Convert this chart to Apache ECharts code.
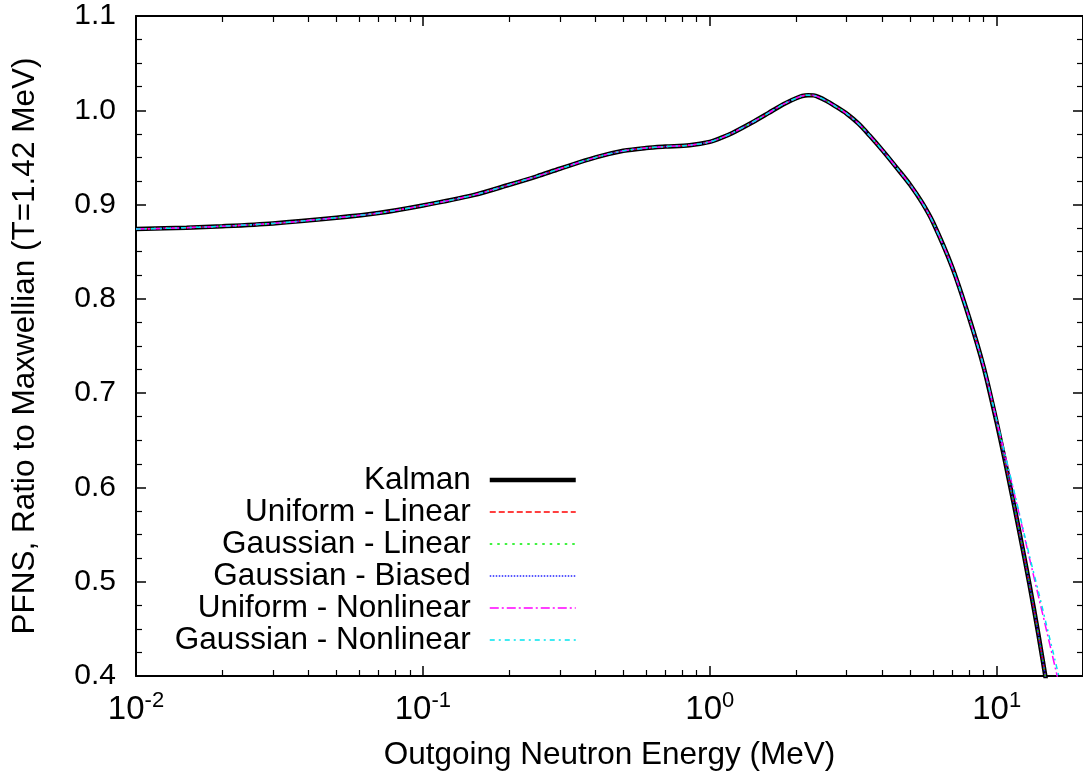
<!DOCTYPE html>
<html>
<head>
<meta charset="utf-8">
<script src="https://cdn.jsdelivr.net/npm/echarts@6/dist/echarts.min.js"></script>
<style>
  html, body { margin: 0; padding: 0; background: #fff; }
  #chart { width: 1083px; height: 777px; }
</style>
</head>
<body>
<div id="chart"></div>
<script>
// Outgoing neutron energy grid (MeV)
const energy = [0.01, 0.015, 0.02, 0.03, 0.05, 0.07, 0.1, 0.15, 0.2, 0.25, 0.3, 0.4, 0.5, 0.6, 0.7, 0.85,
  1.0, 1.1, 1.2, 1.4, 1.6, 1.8, 2.0, 2.1, 2.2, 2.3, 2.4, 2.55, 2.7, 3.0, 3.3, 3.6, 4.0, 4.5, 5.0, 5.5, 6.0, 7.0, 8.0, 9.0,
  10, 11, 12, 13, 14, 15, 16];

// PFNS ratio to a Maxwellian (T = 1.42 MeV), Kalman evaluation
const kalman = [0.874, 0.8755, 0.877, 0.880, 0.886, 0.891, 0.899, 0.910, 0.921, 0.930, 0.938, 0.950, 0.957, 0.960, 0.9615, 0.963,
  0.9665, 0.971, 0.976, 0.9868, 0.997, 1.0062, 1.0128, 1.0152, 1.016, 1.0158, 1.014, 1.010, 1.0055, 0.9965, 0.9858, 0.9735, 0.9575,
  0.9384, 0.9208, 0.902, 0.8812, 0.8335, 0.781, 0.7282,
  0.669, 0.610, 0.553, 0.498, 0.443, 0.388, 0.334];

// Linear and biased solutions coincide with the Kalman curve
const uniformLinear = kalman;
const gaussianLinear = kalman;
const gaussianBiased = kalman;

// Nonlinear solutions, which separate above ~10 MeV
const energyNonlinear = [0.01, 0.015, 0.02, 0.03, 0.05, 0.07, 0.1, 0.15, 0.2, 0.25, 0.3, 0.4, 0.5, 0.6, 0.7, 0.85,
  1.0, 1.1, 1.2, 1.4, 1.6, 1.8, 2.0, 2.1, 2.2, 2.3, 2.4, 2.55, 2.7, 3.0, 3.3, 3.6, 4.0, 4.5, 5.0, 5.5, 6.0, 7.0, 8.0, 9.0,
  10, 11, 12, 13, 14, 15, 16, 17, 18];
const uniformNonlinear = [0.874, 0.8755, 0.877, 0.880, 0.886, 0.891, 0.899, 0.910, 0.921, 0.930, 0.938, 0.950, 0.957, 0.960, 0.9615, 0.963,
  0.9665, 0.971, 0.976, 0.9868, 0.997, 1.0062, 1.0128, 1.0152, 1.016, 1.0158, 1.014, 1.010, 1.0055, 0.9965, 0.9858, 0.9735, 0.9575,
  0.9384, 0.9208, 0.902, 0.8812, 0.8335, 0.781, 0.7285,
  0.671, 0.619, 0.571, 0.5255, 0.484, 0.4455, 0.409, 0.375, 0.344];
const gaussianNonlinear = [0.874, 0.8755, 0.877, 0.880, 0.886, 0.891, 0.899, 0.910, 0.921, 0.930, 0.938, 0.950, 0.957, 0.960, 0.9615, 0.963,
  0.9665, 0.971, 0.976, 0.9868, 0.997, 1.0062, 1.0128, 1.0152, 1.016, 1.0158, 1.014, 1.010, 1.0055, 0.9965, 0.9858, 0.9735, 0.9575,
  0.9384, 0.9208, 0.902, 0.8812, 0.8335, 0.781, 0.7286,
  0.6715, 0.620, 0.5725, 0.528, 0.489, 0.451, 0.416, 0.382, 0.351];

// Axis ticks
const xMajorTicks = [0.01, 0.1, 1, 10];
const xTickExponents = ['-2', '-1', '0', '1'];
const xMinorTicks = [0.02, 0.03, 0.04, 0.05, 0.06, 0.07, 0.08, 0.09,
  0.2, 0.3, 0.4, 0.5, 0.6, 0.7, 0.8, 0.9,
  2, 3, 4, 5, 6, 7, 8, 9, 20];
const yRange = [0.4, 1.1];

const FONT = '"Liberation Sans", Arial, Helvetica, sans-serif';

function pairs(xs, ys) {
  return xs.map((x, i) => [x, ys[i]]);
}

const seriesDefs = [
  { name: 'Kalman', x: energy, y: kalman, color: '#000000', width: 4.5, type: 'solid' },
  { name: 'Uniform - Linear', x: energy, y: uniformLinear, color: '#ff0000', width: 1.5, type: [6, 3] },
  { name: 'Gaussian - Linear', x: energy, y: gaussianLinear, color: '#00ee00', width: 1.5, type: [2.5, 5] },
  { name: 'Gaussian - Biased', x: energy, y: gaussianBiased, color: '#2222ff', width: 1.5, type: [1.5, 1.5] },
  { name: 'Uniform - Nonlinear', x: energyNonlinear, y: uniformNonlinear, color: '#ff00ff', width: 1.5, type: [9, 3, 2, 3] },
  { name: 'Gaussian - Nonlinear', x: energyNonlinear, y: gaussianNonlinear, color: '#00e5ee', width: 1.5, type: [5, 4, 2, 4] }
];

const chart = echarts.init(document.getElementById('chart'), null, { renderer: 'canvas' });

const logAxisBase = {
  type: 'log',
  logBase: 10,
  min: 0.01,
  max: 20,
  splitLine: { show: false },
  axisLabel: { show: false }
};

const option = {
  animation: false,
  backgroundColor: '#ffffff',
  grid: { left: 136, top: 16, right: -2, bottom: 101 },
  legend: {
    orient: 'vertical',
    align: 'right',
    right: 505,
    top: 464,
    padding: 0,
    itemGap: 0,
    itemWidth: 86,
    itemHeight: 14,
    selectedMode: false,
    itemStyle: { opacity: 0 },
    textStyle: { fontFamily: FONT, fontSize: 31.5, color: '#000', padding: [0, 14, 0, 0], lineHeight: 31.7 },
    data: seriesDefs.map(s => ({ name: s.name, lineStyle: { width: s.name === 'Kalman' ? 4.5 : 1.5, opacity: 1 } }))
  },
  xAxis: [
    Object.assign({}, logAxisBase, {
      position: 'bottom',
      name: 'Outgoing Neutron Energy (MeV)',
      nameLocation: 'middle',
      nameGap: 63,
      nameTextStyle: { fontFamily: FONT, fontSize: 31.5, color: '#000' },
      axisLine: { show: true, lineStyle: { color: '#000', width: 2 } },
      axisTick: { show: true, inside: true, length: 10, customValues: xMajorTicks, lineStyle: { color: '#000', width: 1.5 } },
      axisLabel: {
        show: true,
        customValues: xMajorTicks,
        margin: 14,
        formatter: v => {
          const i = xMajorTicks.findIndex(t => Math.abs(Math.log10(t) - Math.log10(v)) < 1e-6);
          return '{b|10}{s|' + (i >= 0 ? xTickExponents[i] : '') + '}';
        },
        rich: {
          b: { fontFamily: FONT, fontSize: 33, color: '#000', lineHeight: 36, verticalAlign: 'bottom' },
          s: { fontFamily: FONT, fontSize: 22, color: '#000', lineHeight: 22, verticalAlign: 'top' }
        }
      }
    }),
    Object.assign({}, logAxisBase, {
      position: 'bottom',
      axisLine: { show: false },
      axisTick: { show: true, inside: true, length: 6, customValues: xMinorTicks, lineStyle: { color: '#000', width: 1.2 } }
    }),
    Object.assign({}, logAxisBase, {
      position: 'top',
      axisLine: { show: true, lineStyle: { color: '#000', width: 2 } },
      axisTick: { show: true, inside: true, length: 10, customValues: xMajorTicks, lineStyle: { color: '#000', width: 1.5 } }
    }),
    Object.assign({}, logAxisBase, {
      position: 'top',
      axisLine: { show: false },
      axisTick: { show: true, inside: true, length: 6, customValues: xMinorTicks, lineStyle: { color: '#000', width: 1.2 } }
    })
  ],
  yAxis: [
    {
      type: 'value',
      position: 'left',
      min: yRange[0],
      max: yRange[1],
      interval: 0.1,
      name: 'PFNS, Ratio to Maxwellian (T=1.42 MeV)',
      nameLocation: 'middle',
      nameGap: 95,
      nameTextStyle: { fontFamily: FONT, fontSize: 31.5, color: '#000' },
      splitLine: { show: false },
      axisLine: { show: true, lineStyle: { color: '#000', width: 2 } },
      axisTick: { show: true, inside: true, length: 10, lineStyle: { color: '#000', width: 1.5 } },
      minorTick: { show: true, splitNumber: 4, length: 6, lineStyle: { color: '#000', width: 1.2 } },
      axisLabel: { fontFamily: FONT, fontSize: 30, color: '#000', margin: 20, formatter: v => v.toFixed(1) }
    },
    {
      type: 'value',
      position: 'right',
      min: yRange[0],
      max: yRange[1],
      interval: 0.1,
      splitLine: { show: false },
      axisLine: { show: true, lineStyle: { color: '#000', width: 2 } },
      axisTick: { show: true, inside: true, length: 10, lineStyle: { color: '#000', width: 1.5 } },
      minorTick: { show: true, splitNumber: 4, length: 6, lineStyle: { color: '#000', width: 1.2 } },
      axisLabel: { show: false }
    }
  ],
  series: seriesDefs.map(s => ({
    name: s.name,
    type: 'line',
    xAxisIndex: 0,
    yAxisIndex: 0,
    data: pairs(s.x, s.y),
    smooth: 0.3,
    symbol: 'none',
    clip: true,
    color: s.color,
    lineStyle: { color: s.color, width: s.width, type: s.type, cap: 'butt' },
    emphasis: { disabled: true }
  }))
};

chart.setOption(option);
</script>
</body>
</html>
